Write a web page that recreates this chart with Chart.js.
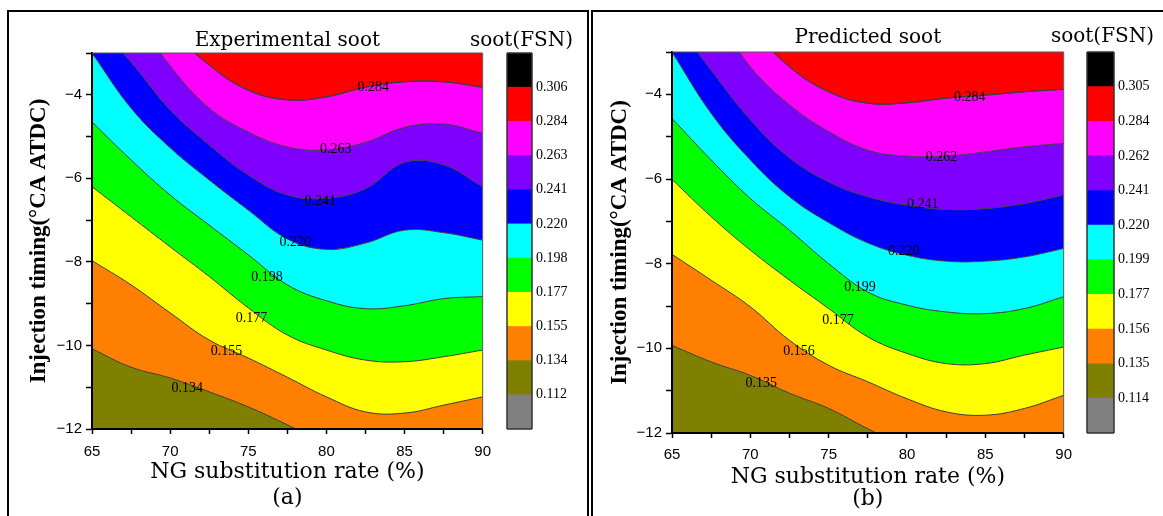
<!DOCTYPE html>
<html>
<head>
<meta charset="utf-8">
<script src="https://cdn.jsdelivr.net/npm/chart.js@4.4.1/dist/chart.umd.min.js"></script>
<style>
  body { margin: 0; background: #fff; width: 1163px; height: 516px; overflow: hidden; position: relative; }
  .frame { position: absolute; top: 10px; height: 540px; border: 2px solid #000; box-sizing: border-box; }
  canvas { position: absolute; top: 0; }
</style>
</head>
<body>
<div class="frame" style="left:7px;width:582px"></div>
<div class="frame" style="left:591px;width:600px"></div>
<canvas id="mainA" width="500" height="516" style="left:0"></canvas>
<canvas id="barA" width="109" height="516" style="left:467px"></canvas>
<canvas id="mainB" width="500" height="516" style="left:580px"></canvas>
<canvas id="barB" width="105" height="516" style="left:1050px"></canvas>
<script>
// x samples (NG substitution rate, %)
const ngRate = [65, 67.5, 70, 72.5, 75, 77.5, 80, 82.5, 85, 87.5, 90];
const xMajorTicks = [65, 70, 75, 80, 85, 90];
const yMajorTicks = [-12, -10, -8, -6, -4];

// colour bar, low -> high
const levelColors = ['#808080', '#808000', '#FF8000', '#FFFF00', '#00FF00', '#00FFFF',
                     '#0000FF', '#8000FF', '#FF00FF', '#FF0000', '#000000'];
const expLevels  = [0.112, 0.134, 0.155, 0.177, 0.198, 0.220, 0.241, 0.263, 0.284, 0.306];
const predLevels = [0.114, 0.135, 0.156, 0.177, 0.199, 0.220, 0.241, 0.262, 0.284, 0.305];

// contour lines (injection timing, °CA ATDC) - experimental
const exp134 = [-10.08, -10.52, -10.78, -11.11, -11.47, -11.9, -12.35, -12.8, -13.2, -13.6, -14.0];
const exp155 = [-7.97, -8.55, -9.22, -9.87, -10.30, -10.76, -11.23, -11.59, -11.62, -11.43, -11.23];
const exp177 = [-6.20, -6.92, -7.64, -8.35, -9.10, -9.75, -10.11, -10.35, -10.39, -10.27, -10.11];
const exp198 = [-4.65, -5.56, -6.40, -7.12, -7.83, -8.55, -8.93, -9.12, -9.05, -8.88, -8.83];
const exp220 = [-3.0, -4.32, -5.27, -6.04, -6.76, -7.45, -7.70, -7.55, -7.24, -7.30, -7.48];
const exp241 = [-2.2, -3.22, -4.36, -5.2, -5.92, -6.40, -6.48, -6.25, -5.62, -5.68, -6.20];
const exp263 = [-1.0, -2.0, -3.31, -4.32, -4.89, -5.25, -5.32, -5.14, -4.78, -4.70, -4.92];
const exp284 = [-0.3, -1.2, -2.4, -3.29, -3.89, -4.12, -4.05, -3.82, -3.69, -3.69, -3.82];

// contour lines - predicted
const pred135 = [-9.93, -10.32, -10.64, -11.06, -11.42, -11.9, -12.35, -12.8, -13.2, -13.6, -14.0];
const pred156 = [-7.78, -8.39, -9.02, -9.81, -10.40, -10.79, -11.19, -11.50, -11.58, -11.42, -11.11];
const pred177 = [-6.01, -6.89, -7.68, -8.39, -9.06, -9.73, -10.12, -10.36, -10.36, -10.16, -9.97];
const pred199 = [-4.57, -5.55, -6.46, -7.21, -8.00, -8.67, -8.98, -9.14, -9.18, -9.06, -8.78];
const pred220 = [-3.0, -4.45, -5.55, -6.42, -7.03, -7.51, -7.80, -7.94, -7.94, -7.84, -7.64];
const pred241 = [-2.2, -3.43, -4.6, -5.5, -6.07, -6.42, -6.62, -6.72, -6.70, -6.58, -6.38];
const pred262 = [-1.0, -2.0, -3.35, -4.25, -4.88, -5.32, -5.46, -5.46, -5.36, -5.24, -5.16];
const pred284 = [-0.3, -1.2, -2.4, -3.35, -3.94, -4.21, -4.20, -4.09, -4.02, -3.94, -3.88];

// where the inline contour labels sit
const expLabelX  = [71.1, 73.6, 75.2, 76.2, 78.0, 79.6, 80.6, 83.0];
const expLabelY  = [-11.03, -10.13, -9.35, -8.38, -7.52, -6.56, -5.30, -3.81];
const predLabelX = [70.7, 73.1, 75.6, 77.0, 79.8, 81.0, 82.2, 84.0];
const predLabelY = [-10.82, -10.07, -9.34, -8.56, -7.70, -6.60, -5.49, -4.08];

const SERIF = '"DejaVu Serif"';
const TIMES = '"Liberation Serif"';
const SANS = '"Liberation Sans"';

const contourLabels = {
    id: 'contourLabels',
    afterDatasetsDraw(chart, args, opts) {
        const {ctx, scales: {x, y}} = chart;
        ctx.save();
        ctx.font = '14px ' + TIMES;
        ctx.fillStyle = '#000';
        ctx.textAlign = 'center';
        ctx.textBaseline = 'middle';
        opts.xs.forEach((v, i) => {
            ctx.fillText(opts.texts[i], x.getPixelForValue(v), y.getPixelForValue(opts.ys[i]));
        });
        ctx.restore();
    }
};

// box round the plot area; `sides` picks which edges
const areaFrame = {
    id: 'areaFrame',
    afterDraw(chart, args, opts) {
        const {ctx, chartArea: a} = chart;
        const sides = opts.sides || 'trbl';
        ctx.save();
        ctx.strokeStyle = opts.color || '#444';
        ctx.lineWidth = opts.width || 1;
        ctx.beginPath();
        if (sides.includes('t')) { ctx.moveTo(a.left, a.top); ctx.lineTo(a.right, a.top); }
        if (sides.includes('r')) { ctx.moveTo(a.right, a.top); ctx.lineTo(a.right, a.bottom); }
        if (sides.includes('b')) { ctx.moveTo(a.left, a.bottom); ctx.lineTo(a.right, a.bottom); }
        if (sides.includes('l')) { ctx.moveTo(a.left, a.top); ctx.lineTo(a.left, a.bottom); }
        ctx.stroke();
        ctx.restore();
    }
};

const makeContour = (id, bounds, levels, labelX, labelY, c) => {
    const line = {
        borderColor: '#3c3c3c',
        borderWidth: 1,
        pointRadius: 0,
        tension: 0.4
    };
    const datasets = bounds.map((b, i) => ({
        ...line,
        data: ngRate.map((x, j) => ({x, y: b[j]})),
        fill: i === 0 ? 'start' : '-1',
        backgroundColor: levelColors[i + 1]
    }));
    const top = bounds[bounds.length - 1];
    datasets.push({
        ...line,
        data: ngRate.map((x, j) => ({x, y: top[j]})),
        fill: 'end',
        backgroundColor: levelColors[bounds.length + 1]
    });

    new Chart(document.getElementById(id), {
        type: 'line',
        data: {datasets},
        options: {
            responsive: false,
            animation: false,
            layout: {padding: {left: 0, right: c.padRight, top: 0, bottom: 0}},
            plugins: {
                legend: {display: false},
                tooltip: {enabled: false},
                filler: {drawTime: 'beforeDatasetsDraw'},
                title: {
                    display: true, text: c.title, fullSize: false, color: '#000',
                    font: {family: SERIF, size: 20, weight: 'normal', lineHeight: 1.2},
                    padding: c.titlePad
                },
                contourLabels: {
                    xs: labelX, ys: labelY,
                    texts: levels.slice(1, 9).map(v => v.toFixed(3))
                },
                areaFrame: {color: '#555', width: 1, sides: 'tr'}
            },
            scales: {
                x: {
                    type: 'linear', min: 65, max: 90,
                    ticks: {
                        stepSize: 2.5, autoSkip: false, maxRotation: 0,
                        padding: c.xTickPad, color: '#000',
                        font: {family: SANS, size: 15},
                        callback: v => xMajorTicks.includes(v) ? String(v) : ''
                    },
                    grid: {drawOnChartArea: false, tickLength: 5, tickColor: '#000', tickWidth: 1.5},
                    border: {color: '#000', width: 2, z: 1},
                    title: {
                        display: true, text: ['NG substitution rate (%)', c.tag], color: '#000',
                        font: {family: SERIF, size: 22, lineHeight: c.xTitleLH},
                        padding: {top: 0, bottom: c.xTitlePad}
                    },
                    afterFit: s => { s.height = c.xAxisH; }
                },
                y: {
                    type: 'linear', min: -12, max: -3,
                    ticks: {
                        stepSize: 1, autoSkip: false, padding: 4, color: '#000',
                        font: {family: SANS, size: 15},
                        callback: v => yMajorTicks.includes(v) ? '\u2212' + Math.abs(v) : ''
                    },
                    grid: {drawOnChartArea: false, tickLength: 6, tickColor: '#000', tickWidth: 1.5},
                    border: {color: '#000', width: 2, z: 1},
                    title: {
                        display: true, text: 'Injection timing(\u00B0CA ATDC)', color: '#000',
                        font: {family: TIMES, size: 23, weight: 'bold', lineHeight: 1.2},
                        padding: {top: c.yTitlePad, bottom: 0}
                    },
                    afterFit: s => { s.width = 92; }
                }
            }
        },
        plugins: [contourLabels, areaFrame]
    });
};

const makeColorbar = (id, levels, c) => {
    new Chart(document.getElementById(id), {
        type: 'bar',
        data: {
            labels: [''],
            datasets: levelColors.map(col => ({
                data: [1], backgroundColor: col, borderWidth: 0,
                barPercentage: 1, categoryPercentage: 1
            }))
        },
        options: {
            responsive: false,
            animation: false,
            layout: {padding: {left: 0, right: 0, top: 0, bottom: c.padBottom}},
            plugins: {
                legend: {display: false},
                tooltip: {enabled: false},
                title: {
                    display: true, text: 'soot(FSN)', color: '#000',
                    font: {family: SERIF, size: 20, weight: 'normal', lineHeight: 1.2},
                    padding: c.titlePad
                },
                areaFrame: {color: '#333', width: 1.5}
            },
            scales: {
                x: {display: false, stacked: true},
                y: {
                    stacked: true, position: 'right', min: 0, max: 11,
                    ticks: {
                        stepSize: 1, padding: 4, color: '#000',
                        font: {family: TIMES, size: 14},
                        callback: v => (v >= 1 && v <= 10) ? levels[v - 1].toFixed(3) : ''
                    },
                    grid: {display: false, drawTicks: false, tickLength: 0},
                    border: {display: false},
                    afterFit: s => { s.width = c.labelW; }
                },
                yLeft: {
                    type: 'linear', position: 'left', display: true,
                    ticks: {display: false}, grid: {display: false, drawTicks: false}, border: {display: false},
                    afterFit: s => { s.width = c.leftW; }
                }
            }
        },
        plugins: [areaFrame]
    });
};

makeContour('mainA', [exp134, exp155, exp177, exp198, exp220, exp241, exp263, exp284],
    expLevels, expLabelX, expLabelY, {
        title: 'Experimental soot', tag: '(a)', padRight: 17,
        titlePad: {top: 29, bottom: 0}, xTickPad: 9, xAxisH: 87,
        xTitleLH: 1.18, xTitlePad: 5, yTitlePad: 25
    });

makeContour('mainB', [pred135, pred156, pred177, pred199, pred220, pred241, pred262, pred284],
    predLevels, predLabelX, predLabelY, {
        title: 'Predicted soot', tag: '(b)', padRight: 11,
        titlePad: {top: 26, bottom: 2}, xTickPad: 8, xAxisH: 83,
        xTitleLH: 1.0, xTitlePad: 6, yTitlePad: 26
    });

makeColorbar('barA', expLevels, {padBottom: 87, titlePad: {top: 29, bottom: 0}, labelW: 44, leftW: 40});
makeColorbar('barB', predLevels, {padBottom: 83, titlePad: {top: 25, bottom: 3}, labelW: 41, leftW: 37});
</script>
</body>
</html>
